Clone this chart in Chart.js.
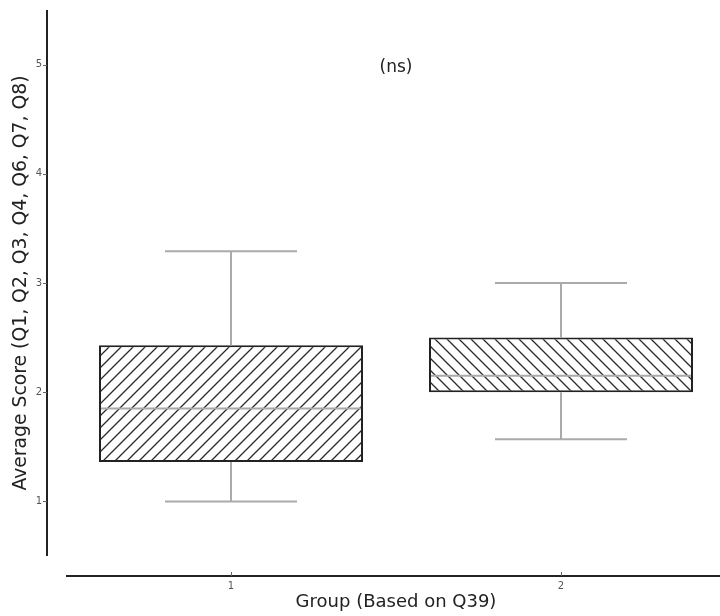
<!DOCTYPE html>
<html>
<head>
<meta charset="utf-8">
<script src="https://cdn.jsdelivr.net/npm/chart.js@4.4.1/dist/chart.umd.min.js"></script>
<style>
  html, body { margin: 0; padding: 0; background: #fff; overflow: hidden; }
  canvas { display: block; }
</style>
</head>
<body>
<canvas id="chart" width="726" height="616"></canvas>
<script>
// data
var groups = ['1', '2'];
var q1 = [1.36, 2.0];
var q3 = [2.43, 2.5];
var medians = [1.85, 2.15];
var whiskerLow = [1.0, 1.57];
var whiskerHigh = [3.29, 3.0];
var yTicks = [1, 2, 3, 4, 5];
var note = '(ns)';

Chart.defaults.font.family = '"DejaVu Sans", sans-serif';

// hatch fill, '/' for group 1 and '\' for group 2
function hatch(dir) {
  var c = document.createElement('canvas');
  c.width = 12; c.height = 12;
  var g = c.getContext('2d');
  g.fillStyle = '#fff';
  g.fillRect(0, 0, 12, 12);
  g.strokeStyle = '#2a2a2a';
  g.lineWidth = 1.3;
  g.beginPath();
  if (dir === '/') {
    g.moveTo(-1, 13); g.lineTo(13, -1);
    g.moveTo(-1, 1); g.lineTo(1, -1);
    g.moveTo(11, 13); g.lineTo(13, 11);
  } else {
    g.moveTo(-1, -1); g.lineTo(13, 13);
    g.moveTo(11, -1); g.lineTo(13, 1);
    g.moveTo(-1, 11); g.lineTo(1, 13);
  }
  g.stroke();
  return document.getElementById('chart').getContext('2d').createPattern(c, 'repeat');
}

var boxPlot = {
  id: 'boxPlot',
  afterDatasetsDraw: function (chart) {
    var ctx = chart.ctx, x = chart.scales.x, y = chart.scales.y;
    var bars = chart.getDatasetMeta(0).data;
    ctx.save();
    ctx.strokeStyle = '#aaaaaa';
    ctx.lineWidth = 2;
    groups.forEach(function (g, i) {
      var cx = x.getPixelForValue(i);
      var half = bars[i].width / 2;
      var cap = half / 2;
      ctx.beginPath();
      // median
      ctx.moveTo(cx - half + 2, y.getPixelForValue(medians[i]));
      ctx.lineTo(cx + half - 2, y.getPixelForValue(medians[i]));
      // whiskers
      ctx.moveTo(cx, y.getPixelForValue(q3[i]));
      ctx.lineTo(cx, y.getPixelForValue(whiskerHigh[i]));
      ctx.moveTo(cx, y.getPixelForValue(q1[i]));
      ctx.lineTo(cx, y.getPixelForValue(whiskerLow[i]));
      // caps
      ctx.moveTo(cx - cap, y.getPixelForValue(whiskerHigh[i]));
      ctx.lineTo(cx + cap, y.getPixelForValue(whiskerHigh[i]));
      ctx.moveTo(cx - cap, y.getPixelForValue(whiskerLow[i]));
      ctx.lineTo(cx + cap, y.getPixelForValue(whiskerLow[i]));
      ctx.stroke();
    });
    ctx.restore();
  },
  afterDraw: function (chart) {
    var ctx = chart.ctx, x = chart.scales.x, y = chart.scales.y;
    var a = chart.chartArea;
    var spineX = 47, spineY = a.bottom + 20;
    ctx.save();
    ctx.strokeStyle = '#222';
    ctx.lineWidth = 2;
    ctx.beginPath();
    ctx.moveTo(spineX, y.getPixelForValue(y.max));
    ctx.lineTo(spineX, y.getPixelForValue(y.min));
    ctx.moveTo(a.left, spineY);
    ctx.lineTo(a.right, spineY);
    ctx.stroke();
    ctx.lineWidth = 1;
    ctx.strokeStyle = '#666';
    ctx.beginPath();
    yTicks.forEach(function (v) {
      var py = Math.round(y.getPixelForValue(v)) + 0.5;
      ctx.moveTo(spineX - 4, py); ctx.lineTo(spineX, py);
    });
    groups.forEach(function (g, i) {
      var px = Math.round(x.getPixelForValue(i)) + 0.5;
      ctx.moveTo(px, spineY - 4); ctx.lineTo(px, spineY);
    });
    ctx.stroke();
    // significance note
    ctx.fillStyle = '#222';
    ctx.font = '17px "DejaVu Sans"';
    ctx.textAlign = 'center';
    ctx.textBaseline = 'middle';
    ctx.fillText(note, x.getPixelForValue(0.5), y.getPixelForValue(4.97));
    ctx.restore();
  }
};

new Chart(document.getElementById('chart'), {
  type: 'bar',
  data: {
    labels: groups,
    datasets: [{
      data: groups.map(function (g, i) { return [q1[i], q3[i]]; }),
      backgroundColor: [hatch('/'), hatch('\\')],
      borderColor: '#222',
      borderWidth: 2,
      borderSkipped: false,
      barPercentage: 0.8,
      categoryPercentage: 1
    }]
  },
  options: {
    responsive: false,
    animation: false,
    layout: { padding: { top: 10, right: 0, left: 0, bottom: 0 } },
    plugins: { legend: { display: false }, tooltip: { enabled: false } },
    scales: {
      x: {
        type: 'category',
        offset: true,
        grid: { display: false, drawTicks: false },
        border: { display: false },
        ticks: { color: '#555', font: { size: 10 }, padding: 24 },
        title: {
          display: true,
          text: 'Group (Based on Q39)',
          color: '#222',
          font: { size: 18 },
          padding: { top: 0, bottom: 3 }
        },
        afterFit: function (s) { s.height = 60; s.paddingLeft = 0; s.paddingRight = 0; }
      },
      y: {
        min: 0.5,
        max: 5.5,
        grid: { display: false, drawTicks: false },
        border: { display: false },
        ticks: { color: '#555', font: { size: 10 }, padding: 24 },
        afterBuildTicks: function (s) {
          s.ticks = yTicks.map(function (v) { return { value: v }; });
        },
        title: {
          display: true,
          text: 'Average Score (Q1, Q2, Q3, Q4, Q6, Q7, Q8)',
          color: '#222',
          font: { size: 18.8 },
          padding: { top: 10, bottom: 0 }
        },
        afterFit: function (s) { s.width = 66; s.paddingTop = 0; s.paddingBottom = 0; }
      }
    }
  },
  plugins: [boxPlot]
});
</script>
</body>
</html>
